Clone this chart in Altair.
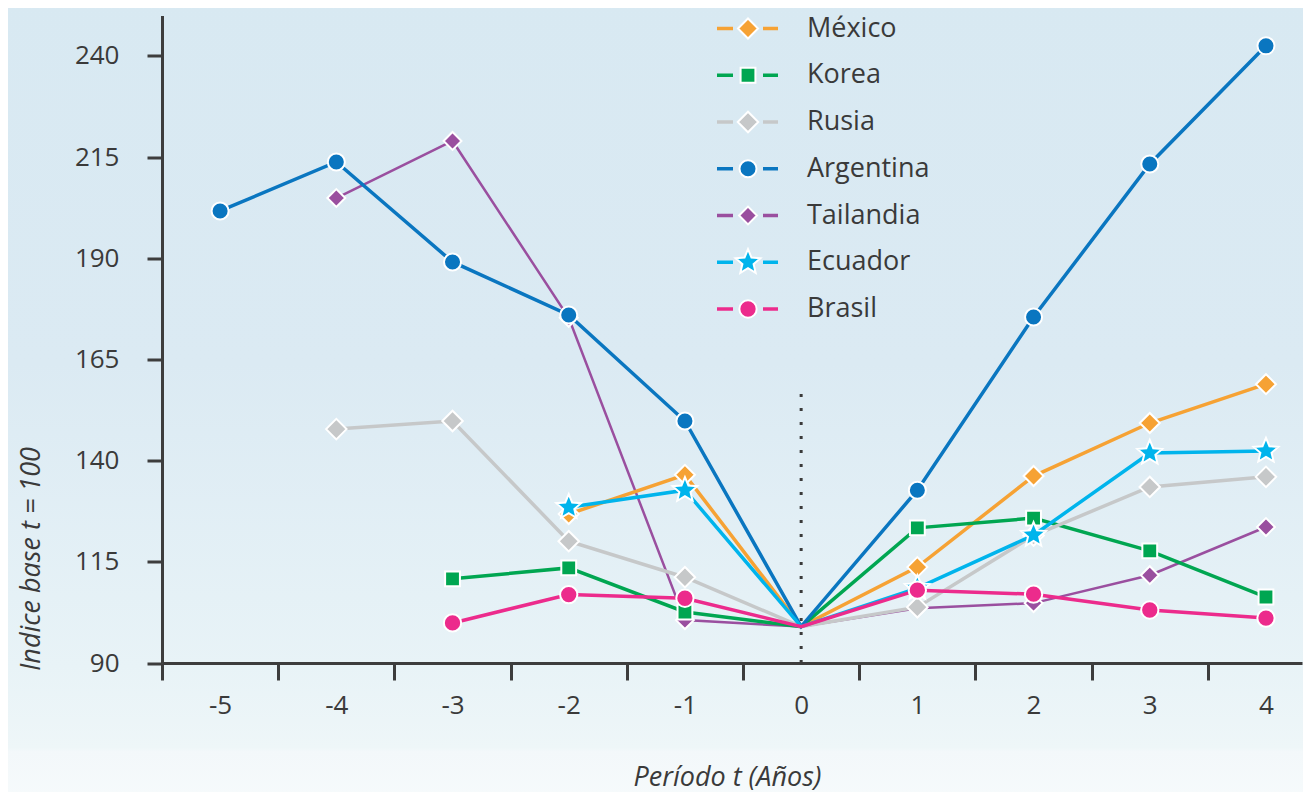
import altair as alt
import pandas as pd

# ---- data ----
years = [-5, -4, -3, -2, -1, 0, 1, 2, 3, 4]
countries = ["México", "Korea", "Rusia", "Argentina", "Tailandia", "Ecuador", "Brasil"]
mexico    = [None, None, None, 126.8, 136.5, 99.0, 113.7, 136.2, 149.3, 158.9]
korea     = [None, None, 110.8, 113.5, 102.6, 99.0, 123.4, 125.8, 117.7, 106.3]
rusia     = [None, 147.8, 149.8, 120.1, 111.2, 99.0, 103.8, 121.5, 133.5, 136.0]
argentina = [201.7, 213.8, 189.1, 176.0, 149.8, 99.0, 132.7, 175.5, 213.3, 242.5]
tailandia = [None, 204.9, 219.0, 175.3, 100.6, 99.0, 103.5, 104.8, 111.7, 123.6]
ecuador   = [None, None, None, 128.5, 132.7, 99.0, 108.5, 121.6, 141.9, 142.4]
brasil    = [None, None, 99.9, 106.9, 106.0, 99.0, 108.0, 107.0, 103.1, 101.1]
y_ticks = [90, 115, 140, 165, 190, 215, 240]

STAR = ("M0,-1 L0.265,-0.364 L0.951,-0.309 L0.428,0.139 L0.588,0.809 L0,0.45 "
        "L-0.588,0.809 L-0.428,0.139 L-0.951,-0.309 L-0.265,-0.364 Z")

series_values = [mexico, korea, rusia, argentina, tailandia, ecuador, brasil]
colors = ["#f6a234", "#00a651", "#c6c8c9", "#0a76c0", "#9a4f9f", "#00b4ec", "#ec2b8c"]
shapes = ["diamond", "square", "diamond", "circle", "diamond", STAR, "circle"]
sizes = [400, 220, 420, 290, 320, 680, 300]
widths = [3.5, 3.5, 3.5, 3.5, 2.5, 3.5, 3.5]
draw_order = ["Tailandia", "México", "Korea", "Rusia", "Argentina", "Ecuador", "Brasil"]

rows = []
for c, vals in zip(countries, series_values):
    for x, v in zip(years, vals):
        if v is not None:
            rows.append({"country": c, "t": x, "v": v})
df = pd.DataFrame(rows)

W, H = 1140, 647.5
UNIT = W / 9.81
FONT = "Open Sans"
TXT = "#3a3a3a"

xscale = alt.Scale(domain=[-5.5, 4.31], nice=False, zero=False)
yscale = alt.Scale(domain=[90, 250], nice=False, zero=False)

xaxis = alt.Axis(orient="bottom", values=years, tickOffset=-UNIT / 2, labelOffset=UNIT / 2,
                 tickSize=17, tickWidth=3, labelExpr="'' + datum.value", zindex=1,
                 tickColor="#3d3d3d", domainColor="#3d3d3d", domainWidth=3,
                 labelFont=FONT, labelFontSize=26, labelColor=TXT, labelPadding=12,
                 grid=False, title="Período t (Años)", titleFont=FONT, titleFontSize=27,
                 titleFontStyle="italic", titleFontWeight="normal", titleColor=TXT,
                 titleBaseline="alphabetic", titleY=122, titleX=W / 2 - 5)
yaxis = alt.Axis(orient="left", values=y_ticks, tickSize=15, tickWidth=3, tickColor="#3d3d3d",
                 domainColor="#3d3d3d", domainWidth=3, labelFont=FONT, labelFontSize=26,
                 labelColor=TXT, labelPadding=28, grid=False, zindex=1,
                 title="Indice base t = 100", titleFont=FONT, titleFontSize=27,
                 titleFontStyle="italic", titleFontWeight="normal", titleColor=TXT,
                 titleAngle=270, titleBaseline="middle", titleAlign="center",
                 titleX=-131, titleY=543)

bg = alt.Chart(alt.Data(values=[{"a": 1}])).mark_rect(
    color=alt.Gradient(
        gradient="linear", x1=0, x2=0, y1=0, y2=1,
        stops=[alt.GradientStop(offset=0, color="#d8e9f2"),
               alt.GradientStop(offset=0.45, color="#dbeaf3"),
               alt.GradientStop(offset=0.82, color="#e8f3f7"),
               alt.GradientStop(offset=0.92, color="#eef6f8"),
               alt.GradientStop(offset=0.925, color="#f3f8fa"),
               alt.GradientStop(offset=1, color="#f7fbfc")]),
).encode(x=alt.value(-170), x2=alt.value(W + 20), y=alt.value(-20), y2=alt.value(H + 150))

rule_df = pd.DataFrame({"t": [0], "y0": [90], "y1": [159]})
vline = alt.Chart(rule_df).mark_rule(color="#3a3a3a", strokeWidth=3, strokeDash=[3, 11]).encode(
    x=alt.X("t:Q", scale=xscale, axis=xaxis),
    y=alt.Y("y0:Q", scale=yscale, axis=yaxis),
    y2="y1:Q",
)

style = {c: (col, shp, sz, lw) for c, col, shp, sz, lw in zip(countries, colors, shapes, sizes, widths)}
layers = [vline]
for c in draw_order:
    col, shp, sz, lw = style[c]
    sub = df[df.country == c]
    ln = alt.Chart(sub).mark_line(strokeWidth=lw, color=col).encode(
        x=alt.X("t:Q", scale=xscale, axis=xaxis),
        y=alt.Y("v:Q", scale=yscale, axis=yaxis),
    )
    pt = alt.Chart(sub).transform_filter("datum.t != 0").mark_point(
        filled=True, shape=shp, size=sz, fill=col, stroke="white", strokeWidth=2, opacity=1
    ).encode(
        x=alt.X("t:Q", scale=xscale, axis=xaxis),
        y=alt.Y("v:Q", scale=yscale, axis=yaxis),
    )
    layers += [ln, pt]
main = alt.layer(*layers)

# ---- legend drawn as marks ----
leg_df = pd.DataFrame({"country": countries, "idx": list(range(len(countries))),
                       "size": sizes})
ly = alt.Y("idx:O", axis=None, scale=alt.Scale(type="point", range=[13, 293.5], padding=0))
cscale = alt.Scale(domain=countries, range=colors)
sscale = alt.Scale(domain=countries, range=shapes)
leg_l = alt.Chart(leg_df).mark_rule(strokeWidth=3.5).encode(
    x=alt.value(555), x2=alt.value(571), y=ly,
    color=alt.Color("country:N", scale=cscale, legend=None))
leg_r = alt.Chart(leg_df).mark_rule(strokeWidth=3.5).encode(
    x=alt.value(601), x2=alt.value(616), y=ly,
    color=alt.Color("country:N", scale=cscale, legend=None))
leg_p = alt.Chart(leg_df).mark_point(filled=True, stroke="white", strokeWidth=2, opacity=1).encode(
    x=alt.value(586), y=ly,
    color=alt.Color("country:N", scale=cscale, legend=None),
    shape=alt.Shape("country:N", scale=sscale, legend=None),
    size=alt.Size("size:Q", scale=None, legend=None))
leg_t = alt.Chart(leg_df).mark_text(align="left", baseline="middle", font=FONT, fontSize=27,
                                    color=TXT).encode(
    x=alt.value(645), y=ly, text="country:N")
legend = alt.layer(leg_l, leg_r, leg_p, leg_t)

chart = alt.layer(bg, main, legend).resolve_scale(y="independent").properties(
    width=W, height=H,
    padding={"left": 154, "top": 7.5, "right": 1, "bottom": 129},
    autosize=alt.AutoSizeParams(type="none"),
).configure_view(stroke=None).configure(background="#f7fbfc")

chart.save("out.html", embed_options={"renderer": "svg", "actions": False})
